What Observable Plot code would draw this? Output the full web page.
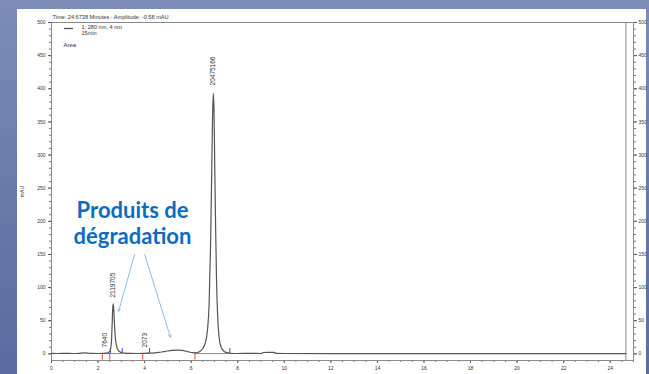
<!DOCTYPE html>
<html><head><meta charset="utf-8">
<script src="https://cdn.jsdelivr.net/npm/d3@7"></script>
<script src="https://cdn.jsdelivr.net/npm/@observablehq/plot@0.6"></script>
<style>
html,body{margin:0;padding:0;}
body{width:649px;height:374px;overflow:hidden;position:relative;background:linear-gradient(180deg,#7d8db8 0%,#6a7cab 45%,#5a6c9f 100%);}
#panel{position:absolute;left:17px;top:9px;width:629px;height:365px;background:#fff;}
#chart{position:absolute;left:0;top:0;}
</style></head><body>
<div id="panel"></div>
<div id="chart"></div>
<script>
// Chromatogram trace (time in minutes, absorbance in mAU)
const times = [0,0.3,0.6,0.9,1.2,1.4,1.55,1.7,2.0,2.2,2.35,2.45,2.52,2.57,2.6,2.63,2.65,2.67,2.7,2.74,2.8,2.88,2.98,3.1,3.4,3.7,4.0,4.3,4.6,4.9,5.2,5.4,5.6,5.85,6.05,6.2,6.35,6.5,6.6,6.7,6.77,6.83,6.88,6.92,6.95,6.98,7.01,7.05,7.09,7.14,7.2,7.28,7.38,7.5,7.7,8.0,8.5,9.0,9.1,9.3,9.55,9.65,10,12,15,18,21,24.67];
const absorbance = [0.8,0.6,0.7,0.6,0.9,1.4,1.2,0.7,0.6,0.8,1.2,2.2,5,15,40,68,75.5,70,48,25,11,5,2.3,1.2,0.8,0.6,0.9,1.2,2.2,3.9,5.4,5.8,5.2,3.4,1.8,1.6,3.2,8,16,36,75,160,270,360,393,370,290,190,110,55,25,11,5,2.2,0.9,0.6,0.7,0.6,2.1,2.4,2.2,0.8,0.6,0.5,0.5,0.4,0.4,0.3];

// Integration results
const peakLabelTimes = [2.28, 2.63, 4.0, 6.92];
const peakLabelHeights = [9.7, 85, 9.7, 405];
const peakLabelTexts = ["7640", "2119705", "2073", "20475166"];
const peakStarts = [2.18, 2.50, 3.92, 6.16];
const peakEnds = [2.53, 3.04, 4.21, 7.66];
const baselineFrom = [2.18, 3.92, 6.16];
const baselineTo = [3.04, 4.21, 7.66];

// Axis ticks
const xTicks = d3.range(0, 25, 2);
const xMinorTicks = d3.range(0, 25.01, 0.5);
const yTicks = d3.range(0, 501, 50);
const yMinorTicks = d3.range(0, 501, 10);

// Cursor / header
const cursorTime = 24.6738;
const titleText = "Time: 24.6738 Minutes - Amplitude: -0.58 mAU";
const legendLines = ["1: 280 nm, 4 nm", "15min"];
const legendExtra = "Area";

// Annotation
const annotationLines = ["Produits de", "dégradation"];
const annotationX = [3.48, 3.48];
const annotationY = [215, 176];
const arrowFromX = [3.57, 4.0];
const arrowFromY = [150, 150];
const arrowToX = [2.88, 5.11];
const arrowToY = [64, 25];

const trace = times.map((t, i) => ({t, v: absorbance[i]}));
const peakLabels = peakLabelTexts.map((s, i) => ({t: peakLabelTimes[i], v: peakLabelHeights[i], s}));
const arrows = arrowFromX.map((x, i) => ({x1: x, y1: arrowFromY[i], x2: arrowToX[i], y2: arrowToY[i]}));
const baselines = baselineFrom.map((x, i) => ({x1: x, x2: baselineTo[i]}));
const annotation = annotationLines.map((s, i) => ({s, x: annotationX[i], y: annotationY[i]}));

const font = "Liberation Sans, Arial, sans-serif";

function legendSample(index, scales, values, dimensions) {
  const x0 = dimensions.marginLeft;
  const y0 = dimensions.marginTop;
  return d3.create("svg:line")
    .attr("x1", x0 + 13).attr("x2", x0 + 22)
    .attr("y1", y0 + 6.5).attr("y2", y0 + 6.5)
    .attr("stroke", "#555").attr("stroke-width", 1.3)
    .node();
}

const chart = Plot.plot({
  width: 649,
  height: 374,
  marginLeft: 51,
  marginRight: 16,
  marginTop: 22,
  marginBottom: 14,
  style: {background: "transparent", fontFamily: font, fontSize: "5px", color: "#333"},
  x: {domain: [0, 25]},
  y: {domain: [-10, 500]},
  marks: [
    Plot.axisX({ticks: xMinorTicks, tickSize: 2, tickFormat: () => "", stroke: "#777"}),
    Plot.axisX({ticks: xTicks, tickSize: 3, tickPadding: 3, tickFormat: d => d, label: null, stroke: "#555", fontSize: 5}),
    Plot.axisY({anchor: "left", ticks: yMinorTicks, tickSize: 2, tickFormat: () => "", label: null, stroke: "#777"}),
    Plot.axisY({anchor: "left", ticks: yTicks, tickSize: 3, tickPadding: 3, tickFormat: d => d, label: "mAU", labelAnchor: "center", labelOffset: 31, labelArrow: false, stroke: "#555", fontSize: 5}),
    Plot.axisY({anchor: "right", ticks: yMinorTicks, tickSize: 2, tickFormat: () => "", label: null, stroke: "#777"}),
    Plot.axisY({anchor: "right", ticks: yTicks, tickSize: 3, tickPadding: 2, tickFormat: d => d, label: null, stroke: "#555", fontSize: 5}),
    Plot.frame({stroke: "#8a8a8a"}),
    Plot.ruleX([cursorTime], {stroke: "#8a8a8a", strokeWidth: 1}),
    Plot.ruleY(baselines, {x1: "x1", x2: "x2", y: 0.5, stroke: "#ff5a5a", strokeWidth: 1}),
    Plot.ruleX(peakStarts, {y1: -9.5, y2: 0.5, stroke: "#ff4040", strokeWidth: 1}),
    Plot.ruleX(peakEnds, {y1: 0.5, y2: 8, stroke: "#3344ee", strokeWidth: 1}),
    Plot.line(trace, {x: "t", y: "v", stroke: "#555", strokeWidth: 1.2, curve: "monotone-x"}),
    Plot.text(peakLabels, {x: "t", y: "v", text: "s", rotate: -90, textAnchor: "start", fontSize: 6.5, fill: "#333", fontFamily: font}),
    Plot.arrow(arrows, {x1: "x1", y1: "y1", x2: "x2", y2: "y2", stroke: "#8fbde9", strokeWidth: 1, headLength: 4, bend: 0}),
    Plot.text(annotation, {x: "x", y: "y", text: "s", fontSize: 22, fontWeight: "bold", fill: "#0c6cbf", fontFamily: "Lato, Open Sans, sans-serif", textAnchor: "middle"}),
    Plot.text([titleText], {frameAnchor: "top-left", dx: 1, dy: -7, textAnchor: "start", fontSize: 5.6, fill: "#333", fontFamily: font}),
    Plot.text([legendLines.join("\n")], {frameAnchor: "top-left", dx: 30, dy: 2, lineAnchor: "top", lineHeight: 1.1, textAnchor: "start", fontSize: 5.6, fill: "#333", fontFamily: font}),
    Plot.text([legendExtra], {frameAnchor: "top-left", dx: 12, dy: 20, textAnchor: "start", fontSize: 6, fill: "#333", fontFamily: font}),
    legendSample
  ]
});
document.getElementById("chart").appendChild(chart);
</script>
</body></html>
